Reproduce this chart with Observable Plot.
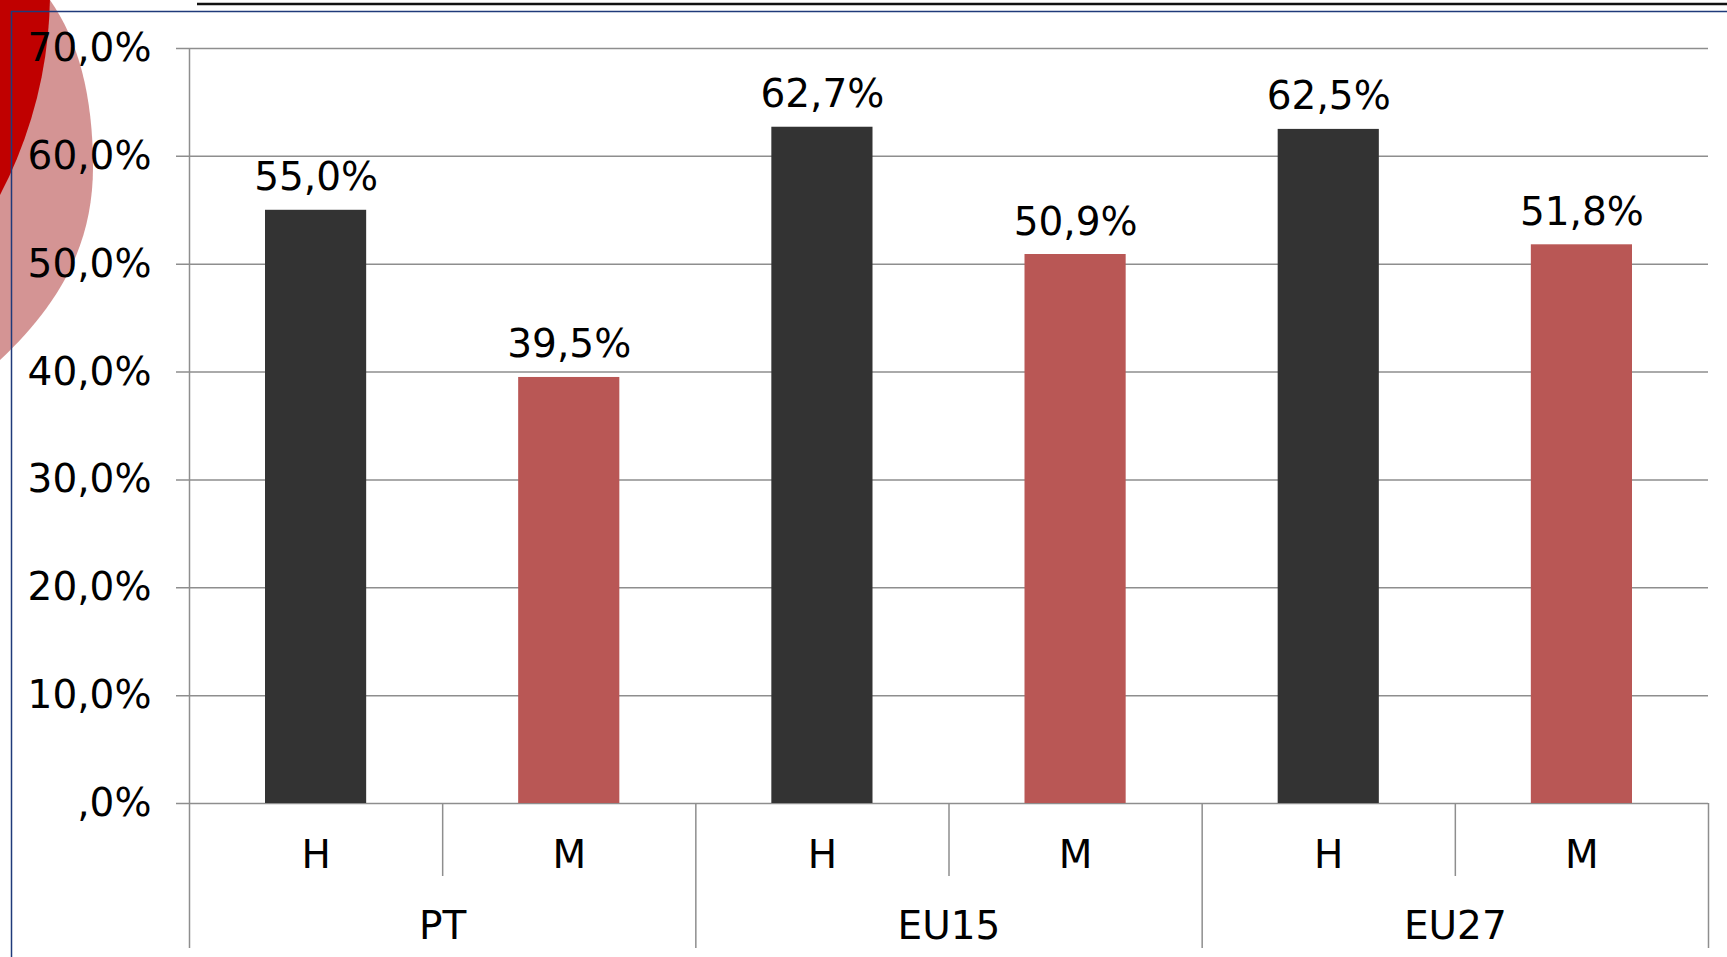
<!DOCTYPE html>
<html>
<head>
<meta charset="utf-8">
<script src="https://cdn.jsdelivr.net/npm/d3@7"></script>
<script src="https://cdn.jsdelivr.net/npm/@observablehq/plot@0.6"></script>
<style>
  html, body { margin: 0; padding: 0; background: #ffffff; }
  #wrap { position: relative; width: 1727px; height: 957px; overflow: hidden; }
  #deco, #chart { position: absolute; left: 0; top: 0; }
  #chart svg { display: block; }
</style>
</head>
<body>
<div id="wrap">
  <svg id="deco" width="1727" height="957" viewBox="0 0 1727 957">
    <path d="M0,0 L50,0 C78,40 93,95 93,167 C93,242 62,302 0,360 Z" fill="#d49494"/>
    <circle cx="-387" cy="-8" r="437" fill="#c00000"/>
    <line x1="197" y1="4" x2="1727" y2="4" stroke="#111111" stroke-width="2.5"/>
    <line x1="11" y1="11.5" x2="1727" y2="11.5" stroke="#1f3a7a" stroke-width="1.5"/>
    <line x1="11.5" y1="11" x2="11.5" y2="957" stroke="#1f3a7a" stroke-width="1.5"/>
  </svg>
  <div id="chart"></div>
</div>
<script>
// ---- data ----
const groups = ["PT", "EU15", "EU27"];
const sexes = ["H", "M"];
const homens = [55.0, 62.7, 62.5];     // H
const mulheres = [39.5, 50.9, 51.8];   // M
const yTicks = [0, 10, 20, 30, 40, 50, 60, 70];
const yTickLabels = [",0%", "10,0%", "20,0%", "30,0%", "40,0%", "50,0%", "60,0%", "70,0%"];

const seriesBySex = {H: homens, M: mulheres};
const rows = [];
groups.forEach((g, gi) => {
  sexes.forEach((s, si) => {
    rows.push({group: g, sex: s, value: seriesBySex[s][gi], slot: gi * sexes.length + si});
  });
});
const groupRows = groups.map((g, gi) => ({group: g, start: gi * sexes.length, end: (gi + 1) * sexes.length}));
const slotBounds = d3.range(0, groups.length * sexes.length + 1);
const innerBounds = slotBounds.filter(b => b % sexes.length !== 0);
const outerBounds = slotBounds.filter(b => b % sexes.length === 0);

const fmt = v => v.toFixed(1).replace(".", ",") + "%";
const tickLabel = v => yTickLabels[yTicks.indexOf(v)];

const grid = "#8e8e8e";
const fs = 39;

const chart = Plot.plot({
  width: 1727,
  height: 957,
  marginLeft: 189,
  marginRight: 19,
  marginTop: 48,
  marginBottom: 154,
  style: {
    background: "transparent",
    fontFamily: "'DejaVu Sans', Verdana, sans-serif",
    fontSize: fs + "px",
    color: "#000000",
    overflow: "visible"
  },
  x: {domain: [0, groups.length * sexes.length], axis: null},
  y: {domain: [0, 70], ticks: yTicks, tickFormat: tickLabel, tickSize: 0, tickPadding: 38, label: null},
  color: {domain: sexes, range: ["#333333", "#b95755"]},
  marks: [
    Plot.ruleY(yTicks, {y: d => d, stroke: grid, strokeWidth: 1.5, insetLeft: -13}),
    Plot.rectY(rows, {x1: "slot", x2: d => d.slot + 1, y: "value", fill: "sex", insetLeft: 76, insetRight: 76}),
    Plot.text(rows, {x: d => d.slot + 0.5, y: "value", text: d => fmt(d.value), lineAnchor: "bottom", dy: -20, fontSize: fs, fill: "#000"}),
    // category axis (hierarchical)
    Plot.ruleX(innerBounds, {x: d => d, y1: 0, y2: 0, insetBottom: -73, stroke: grid, strokeWidth: 1.5}),
    Plot.ruleX(outerBounds, {x: d => d, y1: 0, y2: 0, insetBottom: -145, stroke: grid, strokeWidth: 1.5}),
    Plot.ruleX([0], {x: d => d, y1: 70, y2: 0, stroke: grid, strokeWidth: 1.5}),
    Plot.text(rows, {x: d => d.slot + 0.5, y: 0, text: "sex", lineAnchor: "bottom", dy: 64, fontSize: fs, fill: "#000"}),
    Plot.text(groupRows, {x: d => (d.start + d.end) / 2, y: 0, text: "group", lineAnchor: "bottom", dy: 135, fontSize: fs, fill: "#000"})
  ]
});
document.getElementById("chart").appendChild(chart);
</script>
</body>
</html>
